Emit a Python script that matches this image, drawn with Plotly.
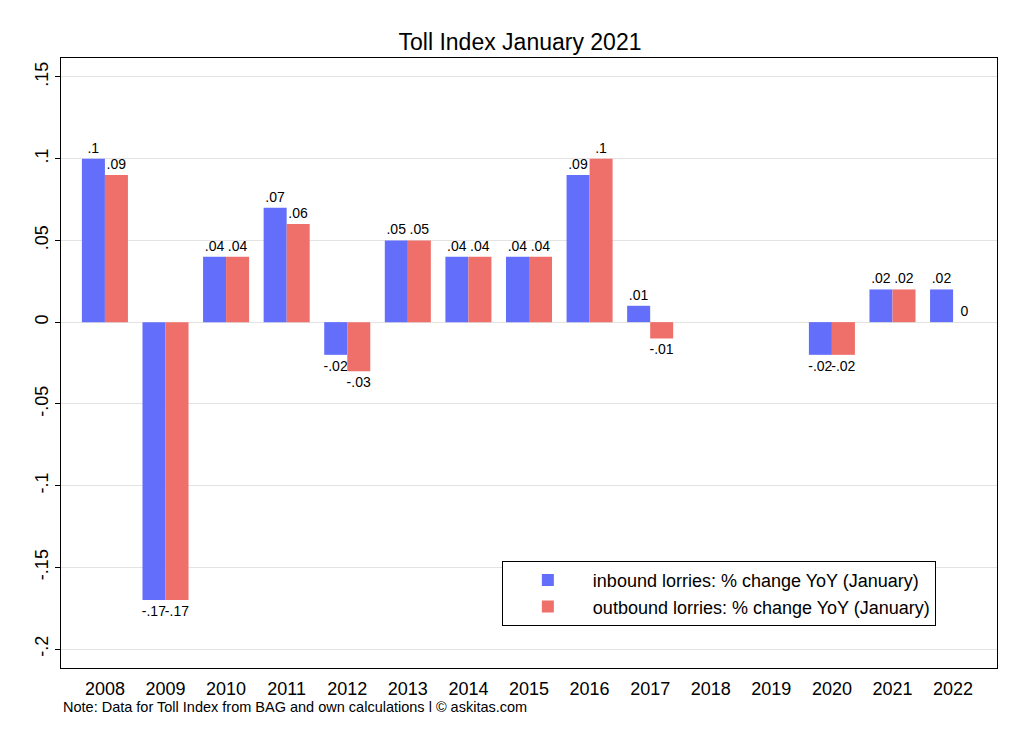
import plotly.graph_objects as go

years = [2008, 2009, 2010, 2011, 2012, 2013, 2014, 2015, 2016, 2017, 2018, 2019, 2020, 2021, 2022]
inbound = [0.10, -0.17, 0.04, 0.07, -0.02, 0.05, 0.04, 0.04, 0.09, 0.01, None, None, -0.02, 0.02, 0.02]
outbound = [0.09, -0.17, 0.04, 0.06, -0.03, 0.05, 0.04, 0.04, 0.10, -0.01, None, None, -0.02, 0.02, 0.00]
ytick_vals = [0.15, 0.10, 0.05, 0.0, -0.05, -0.10, -0.15, -0.20]
ytick_text = [".15", ".1", ".05", "0", "-.05", "-.1", "-.15", "-.2"]

title = "Toll Index January 2021"
name_in = "inbound lorries: % change YoY (January)"
name_out = "outbound lorries: % change YoY (January)"
note = "Note: Data for Toll Index from BAG and own calculations l \u00a9 askitas.com"


def stata_fmt(v):
    if v is None:
        return ""
    s = f"{v:.2f}".rstrip("0").rstrip(".")
    if s in ("-0", ""):
        s = "0"
    if s.startswith("0."):
        s = s[1:]
    if s.startswith("-0."):
        s = "-" + s[2:]
    return s


FONT = "Liberation Sans, Arial, Helvetica, sans-serif"

fig = go.Figure()
fig.add_trace(go.Bar(
    x=years, y=inbound, name=name_in,
    marker=dict(color="#636efa", line=dict(width=0)),
    text=[stata_fmt(v) for v in inbound], textposition="outside",
    constraintext="none", cliponaxis=False,
    textfont=dict(size=14, color="black", family=FONT),
))
fig.add_trace(go.Bar(
    x=years, y=outbound, name=name_out,
    marker=dict(color="#ef706a", line=dict(width=0)),
    text=[stata_fmt(v) for v in outbound], textposition="outside",
    constraintext="none", cliponaxis=False,
    textfont=dict(size=14, color="black", family=FONT),
))

fig.update_layout(
    width=1024, height=745,
    margin=dict(l=53, r=35, t=50, b=85),
    paper_bgcolor="white", plot_bgcolor="white",
    font=dict(family=FONT, color="black"),
    barmode="group", bargap=0.24, bargroupgap=0,
    title=dict(text=title, x=0.5, xanchor="center", y=0.954, yanchor="middle",
               font=dict(size=23, color="black", family=FONT)),
    legend=dict(x=0.471, y=0.069, xanchor="left", yanchor="bottom",
                bordercolor="black", borderwidth=1, bgcolor="white",
                font=dict(size=18, family=FONT), itemwidth=80,
                tracegroupgap=2),
    showlegend=True,
)
fig.update_xaxes(
    range=[2007.275, 2022.725], tickmode="array", tickvals=years,
    ticktext=[str(y) for y in years], showgrid=False, zeroline=False,
    showline=True, linecolor="black", linewidth=1, mirror=True,
    ticks="", tickfont=dict(size=18), ticklabelstandoff=4,
)
fig.update_yaxes(
    range=[-0.2116, 0.1616], tickmode="array", tickvals=ytick_vals,
    ticktext=ytick_text, tickangle=-90, showgrid=True, gridcolor="#e3e3e3",
    gridwidth=1, zeroline=True, zerolinecolor="#e3e3e3", zerolinewidth=1,
    showline=True, linecolor="black", linewidth=1, mirror=True,
    ticks="outside", ticklen=5, tickcolor="black", tickfont=dict(size=18),
)
fig.add_annotation(text=note, xref="paper", yref="paper", x=0.0, y=-0.064,
                   xanchor="left", yanchor="middle", showarrow=False,
                   font=dict(size=14.5, family=FONT, color="black"))

fig.write_html("out.html")
